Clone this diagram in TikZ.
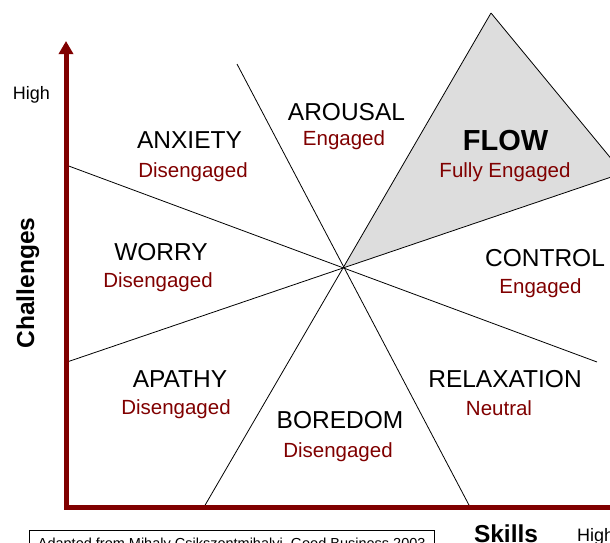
\documentclass[tikz,border=0pt]{standalone}
\usepackage{fontspec}
\setmainfont{Liberation Sans}
\usetikzlibrary{arrows.meta}
\definecolor{axisred}{RGB}{128,0,0}
\definecolor{moodred}{RGB}{128,0,0}
\definecolor{flowgray}{RGB}{221,221,221}
\begin{document}
\begin{tikzpicture}[x=1pt,y=-1pt,
  state/.style={font=\fontsize{24.5}{28}\selectfont, anchor=base, inner sep=0pt},
  mood/.style={font=\fontsize{20.5}{24}\selectfont, text=moodred, anchor=base, inner sep=0pt},
  divider/.style={draw=black, line width=0.8pt},
  axisline/.style={draw=axisred, line width=5pt, line join=miter,
    {Triangle[length=13pt,width=14pt]}-{Triangle[length=13pt,width=14pt]}},
  axislabel/.style={font=\bfseries\fontsize{24.5}{28}\selectfont, anchor=base, inner sep=0pt},
  level/.style={font=\fontsize{18}{21}\selectfont, inner sep=0pt}]

\useasboundingbox (0,0) rectangle (610,542);
\clip (0,0) rectangle (610,542);

% centre of the chart and the ends of the dividing lines
\coordinate (c) at (343,268);
\coordinate (a1) at (237,64);   \coordinate (b1) at (470,507);
\coordinate (a2) at (66,165);   \coordinate (b2) at (597,362);
\coordinate (a3) at (67,362);   \coordinate (b3) at (623,173);
\coordinate (a4) at (204,507);  \coordinate (b4) at (491,13);

% flow region
\path[fill=flowgray] (c) -- (b4) -- (b3) -- cycle;

% dividing lines
\draw[divider] (a1) -- (b1);
\draw[divider] (a2) -- (b2);
\draw[divider] (a3) -- (c) -- (b3);
\draw[divider] (a4) -- (c) -- (b4);
\draw[divider] (b4) -- (b3);

% axes
\coordinate (origin) at (66,507);
\coordinate (ytip) at (66,41);
\coordinate (xtip) at (623,507);
\draw[axisline] (ytip) -- (origin) -- (xtip);

% states
\node[state] (anxiety) at (189.5,148) {ANXIETY};
\node[mood] (anxietym) at (193,177) {Disengaged};
\node[state] (arousal) at (346.5,120) {AROUSAL};
\node[mood] (arousalm) at (344,145) {Engaged};
\node[font=\bfseries\fontsize{29}{33}\selectfont, anchor=base, inner sep=0pt] (flow) at (505.5,150) {FLOW};
\node[mood] (flowm) at (505,177) {Fully Engaged};
\node[state] (control) at (545,266) {CONTROL};
\node[mood] (controlm) at (540.5,293) {Engaged};
\node[state] (worry) at (161,260) {WORRY};
\node[mood] (worrym) at (158,287) {Disengaged};
\node[state] (apathy) at (180,387) {APATHY};
\node[mood] (apathym) at (176,414) {Disengaged};
\node[state] (boredom) at (340,428) {BOREDOM};
\node[mood] (boredomm) at (338,457) {Disengaged};
\node[state] (relax) at (505,387) {RELAXATION};
\node[mood] (relaxm) at (499,415) {Neutral};

% axis labels
\node[axislabel, rotate=90] (challenges) at (34,283) {Challenges};
\node[axislabel] (skills) at (506,542) {Skills};
\node[level, anchor=base] (yhigh) at (31.5,99) {High};
\node[level, anchor=base west] (xhigh) at (577,541) {High};

% source note
\node[draw=black, line width=0.75pt, anchor=north west, inner xsep=8.5pt, inner ysep=8pt,
  font=\fontsize{14.5}{17}\selectfont] (source) at (29,530)
  {Adapted from Mihaly Csikszentmihalyi, Good Business 2003};
\end{tikzpicture}
\end{document}
